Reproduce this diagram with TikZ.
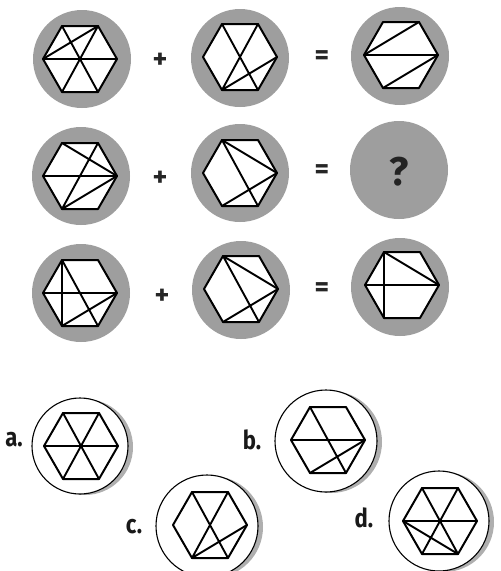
\documentclass[tikz,border=0pt]{standalone}
\usepackage{fontspec}
\setmainfont{Fira Sans}
\definecolor{diskgray}{RGB}{158,158,158}
\definecolor{shadowgray}{RGB}{175,175,175}
\definecolor{qmark}{RGB}{35,35,35}
\begin{document}
\begin{tikzpicture}[x=1pt,y=-1pt,
  graydisk/.style={circle, fill=diskgray, minimum size=98pt, inner sep=0pt},
  optdisk/.style={circle, draw=black, fill=white, line width=1.1pt, minimum size=#1, inner sep=0pt},
  shadowdisk/.style={circle, fill=shadowgray, minimum size=#1, inner sep=0pt},
  diag/.style={line width=1.9pt, line cap=round},
  oper/.style={font=\fontsize{28}{28}\selectfont\bfseries, text=black!85},
  optlabel/.style={font=\fontsize{26}{26}\selectfont\bfseries, text=black!90, xscale=0.85},
  hexa/.pic={
    \path[draw=black, fill=white, line width=2pt, line join=round]
      (-18,-33) coordinate (-TL) -- (18,-33) coordinate (-TR) -- (37,0) coordinate (-R)
      -- (18,33) coordinate (-BR) -- (-18,33) coordinate (-BL) -- (-37,0) coordinate (-L) -- cycle;
  }]
\useasboundingbox (0,0) rectangle (501,571);

% ---------- row 1 ----------
\node[graydisk] (g1) at (82,59) {};
\pic (h1) at (80,59) {hexa};
\draw[diag] (h1-TL) -- (h1-BR) (h1-TR) -- (h1-BL) (h1-L) -- (h1-R) (h1-TR) -- (h1-L);
\node[oper] (p1) at (160,61) {+};
\node[graydisk] (g2) at (240,58) {};
\pic (h2) at (240,57) {hexa};
\draw[diag] (h2-TL) -- (h2-BR) (h2-TR) -- (h2-BL) (h2-BL) -- (h2-R);
\node[oper] (e1) at (322,58) {=};
\node[graydisk] (g3) at (400,56) {};
\pic (h3) at (401,55) {hexa};
\draw[diag] (h3-L) -- (h3-R) (h3-L) -- (h3-TR) (h3-BL) -- (h3-R);

% ---------- row 2 ----------
\node[graydisk] (g4) at (81,176) {};
\pic (h4) at (80,176) {hexa};
\draw[diag] (h4-L) -- (h4-R) (h4-TL) -- (h4-R) (h4-TR) -- (h4-BL) (h4-BL) -- (h4-R);
\node[oper] (p2) at (160,179) {+};
\node[graydisk] (g5) at (240,173) {};
\pic (h5) at (240,173) {hexa};
\draw[diag] (h5-TL) -- (h5-R) (h5-TL) -- (h5-BR) (h5-BL) -- (h5-R);
\node[oper] (e2) at (322,172) {=};
\node[graydisk] (g6) at (399,170) {};
\node[font=\fontsize{40}{40}\selectfont\bfseries, text=qmark] (q) at (399,172) {?};

% ---------- row 3 ----------
\node[graydisk] (g7) at (81,293) {};
\pic (h7) at (80,293) {hexa};
\draw[diag] (h7-TL) -- (h7-BL) (h7-L) -- (h7-R) (h7-TL) -- (h7-BR) (h7-BL) -- (h7-R);
\node[oper] (p3) at (162,297) {+};
\node[graydisk] (g8) at (241,290) {};
\pic (h8) at (241,289) {hexa};
\draw[diag] (h8-TL) -- (h8-R) (h8-TL) -- (h8-BR) (h8-BL) -- (h8-R);
\node[oper] (e3) at (322,290) {=};
\node[graydisk] (g9) at (400,287) {};
\pic (h9) at (402,285) {hexa};
\draw[diag] (h9-TL) -- (h9-BL) (h9-L) -- (h9-R) (h9-TL) -- (h9-R);

% ---------- options ----------
% a
\node[shadowdisk=96pt, xshift=5pt, yshift=-1pt] (as) at (80,446) {};
\node[optdisk=96pt] (ao) at (80,446) {};
\pic (ha) at (81,446) {hexa};
\draw[diag] (ha-TL) -- (ha-BR) (ha-TR) -- (ha-BL) (ha-L) -- (ha-R);
\node[optlabel] (la) at (14,440) {a.};
% b
\node[shadowdisk=102pt, xshift=5pt, yshift=-1pt] (bs) at (326,441) {};
\node[optdisk=102pt] (bo) at (326,441) {};
\pic (hb) at (328,440) {hexa};
\draw[diag] (hb-TL) -- (hb-BR) (hb-L) -- (hb-R) (hb-BL) -- (hb-R);
\node[optlabel] (lb) at (252,440) {b.};
% c
\node[shadowdisk=102pt, xshift=5pt, yshift=-1pt] (cs) at (207,526) {};
\node[optdisk=102pt] (co) at (207,526) {};
\pic (hc) at (210,525) {hexa};
\draw[diag] (hc-TL) -- (hc-BR) (hc-TR) -- (hc-BL) (hc-BL) -- (hc-R);
\node[optlabel] (lc) at (134,527) {c.};
% d
\node[shadowdisk=100pt, xshift=5pt, yshift=-1pt] (ds) at (439,521) {};
\node[optdisk=100pt] (do) at (439,521) {};
\pic (hd) at (440,521) {hexa};
\draw[diag] (hd-TL) -- (hd-BR) (hd-TR) -- (hd-BL) (hd-L) -- (hd-R) (hd-L) -- (hd-BR);
\node[optlabel] (ld) at (364,518) {d.};
\end{tikzpicture}
\end{document}
